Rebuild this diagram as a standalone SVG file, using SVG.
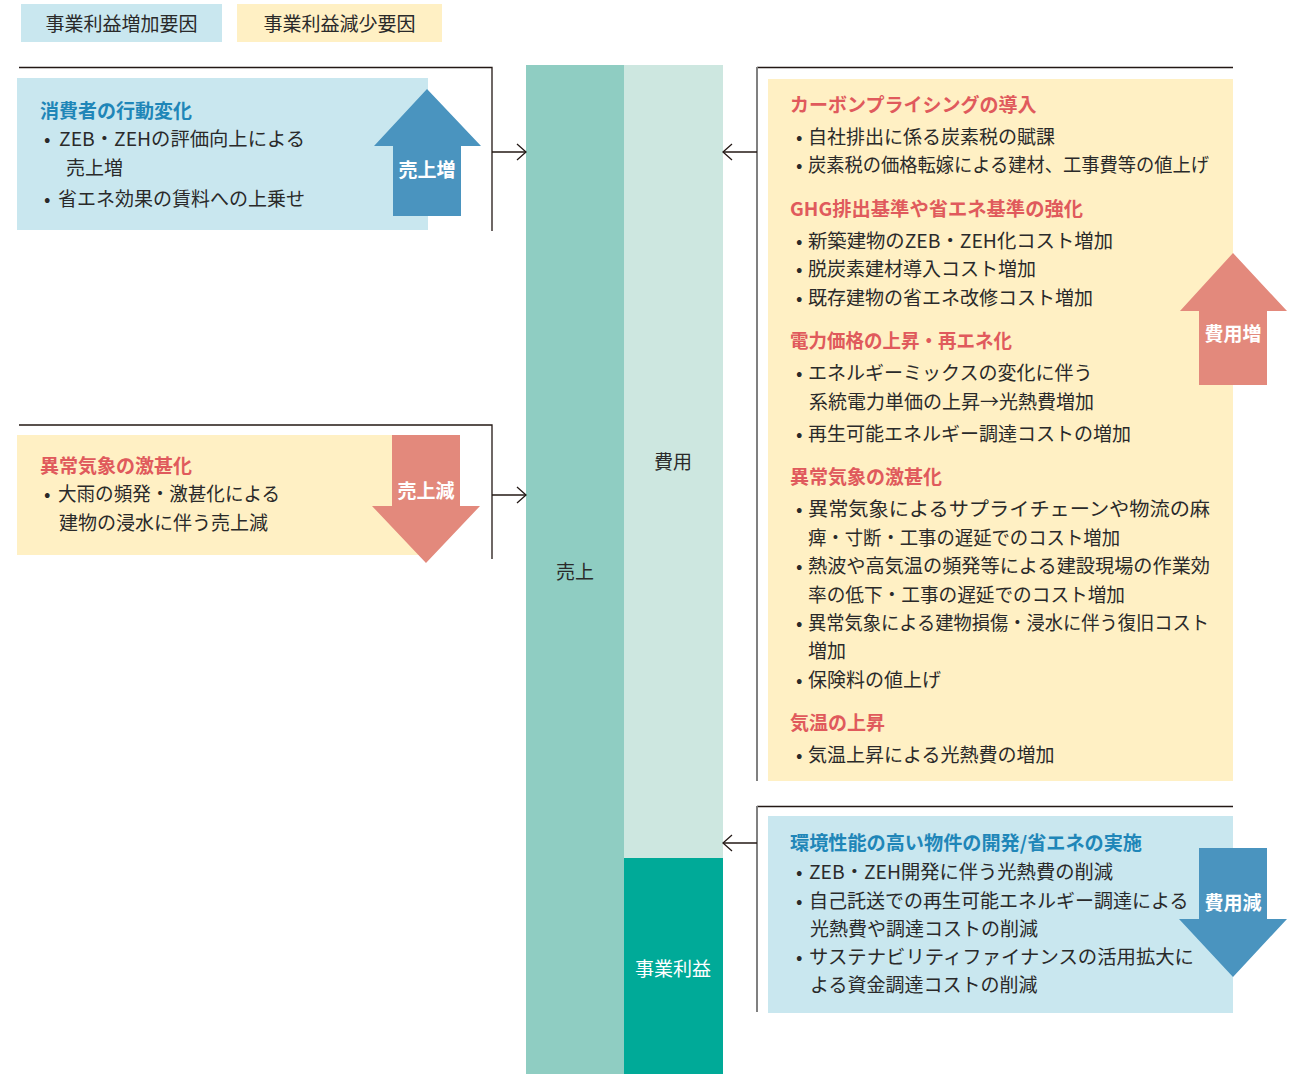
<svg xmlns="http://www.w3.org/2000/svg" width="1295" height="1074" viewBox="0 0 1295 1074">
<defs>
<style>
text{font-family:"Noto Sans CJK JP","Noto Sans CJK SC",sans-serif;dominant-baseline:central;}
.b{font-size:19px;fill:#2a2a2a;}
.tr{font-size:19px;font-weight:bold;fill:#e05a5c;}
.tb{font-size:19px;font-weight:bold;fill:#1f86b8;}
.aw{font-size:19px;font-weight:bold;fill:#ffffff;text-anchor:middle;}
.c{font-size:19px;fill:#2a2a2a;text-anchor:middle;}
.boxb{fill:#c9e7ef;}
.boxy{fill:#fff0c4;}
.arb{fill:#4a94bf;}
.arr{fill:#e3897c;}
.ln{stroke:#231815;stroke-width:1.3;fill:none;}
.lg{stroke:#808080;stroke-width:2;fill:none;}
</style>
<marker id="chev" markerUnits="userSpaceOnUse" markerWidth="12" markerHeight="18" refX="10" refY="9" orient="auto">
<path d="M1,1 L10,9 L1,17" fill="none" stroke="#231815" stroke-width="1.3"/>
</marker>
</defs>
<rect width="1295" height="1074" fill="#ffffff"/>

<g id="legend">
<rect class="boxb" x="21" y="4" width="201" height="38"/>
<text class="c" x="121.5" y="22">事業利益増加要因</text>
<rect class="boxy" x="237" y="4" width="205" height="38"/>
<text class="c" x="339.5" y="22">事業利益減少要因</text>
</g>

<g id="bars">
<rect x="526" y="65" width="98" height="1009" fill="#8fcdc2"/>
<rect x="624" y="65" width="99" height="793" fill="#cde7e0"/>
<rect x="624" y="858" width="99" height="216" fill="#00aa98"/>
<text class="c" x="575" y="570">売上</text>
<text class="c" x="673" y="460">費用</text>
<text class="c" x="673" y="967" style="fill:#ffffff">事業利益</text>
</g>

<g id="connectors">
<path class="ln" d="M19,67.5 H492 V231"/>
<path class="ln" d="M492,152 H526" marker-end="url(#chev)"/>
<path class="ln" d="M19,425 H492 V559"/>
<path class="ln" d="M492,495 H526" marker-end="url(#chev)"/>
<path class="ln" d="M757,67.5 H1233"/>
<path class="lg" d="M757,67 V781"/>
<path class="ln" d="M757,152 H723" marker-end="url(#chev)"/>
<path class="ln" d="M757,806.5 H1233"/>
<path class="lg" d="M757,806 V1012"/>
<path class="ln" d="M757,843 H723" marker-end="url(#chev)"/>
</g>

<g id="node-consumer">
<rect class="boxb" x="17" y="78" width="411" height="152"/>
<polygon class="arb" points="427,89 481,146 461,146 461,216 393,216 393,146 374,146"/>
<text class="aw" x="427" y="168">売上増</text>
<text class="tb" x="40" y="109">消費者の行動変化</text>
<text class="b" x="44" y="137">•</text>
<text class="b" x="59" y="137" textLength="246" lengthAdjust="spacingAndGlyphs">ZEB・ZEHの評価向上による</text>
<text class="b" x="66" y="166">売上増</text>
<text class="b" x="44" y="197">•</text>
<text class="b" x="58" y="197">省エネ効果の賃料への上乗せ</text>
</g>

<g id="node-weather-sales">
<rect class="boxy" x="17" y="435" width="411" height="120"/>
<polygon class="arr" points="392,435 460,435 460,506 480,506 426,563 372,506 392,506"/>
<text class="aw" x="426" y="489">売上減</text>
<text class="tr" x="40" y="464">異常気象の激甚化</text>
<text class="b" x="44" y="492">•</text>
<text class="b" x="58" y="492" textLength="222" lengthAdjust="spacingAndGlyphs">大雨の頻発・激甚化による</text>
<text class="b" x="59" y="521">建物の浸水に伴う売上減</text>
</g>

<g id="node-cost-increase">
<rect class="boxy" x="768" y="79" width="465" height="702"/>
<polygon class="arr" points="1233,253 1287,311 1267,311 1267,385 1199,385 1199,311 1180,311"/>
<text class="aw" x="1233" y="332">費用増</text>
<text class="tr" x="790" y="103">カーボンプライシングの導入</text>
<text class="b" x="796" y="135">•</text>
<text class="b" x="808" y="135">自社排出に係る炭素税の賦課</text>
<text class="b" x="796" y="163">•</text>
<text class="b" x="808" y="163" textLength="401" lengthAdjust="spacingAndGlyphs">炭素税の価格転嫁による建材、工事費等の値上げ</text>
<text class="tr" x="790" y="207" textLength="293" lengthAdjust="spacingAndGlyphs">GHG排出基準や省エネ基準の強化</text>
<text class="b" x="796" y="239">•</text>
<text class="b" x="808" y="239" textLength="305" lengthAdjust="spacingAndGlyphs">新築建物のZEB・ZEH化コスト増加</text>
<text class="b" x="796" y="267">•</text>
<text class="b" x="808" y="267">脱炭素建材導入コスト増加</text>
<text class="b" x="796" y="296">•</text>
<text class="b" x="808" y="296">既存建物の省エネ改修コスト増加</text>
<text class="tr" x="790" y="339" textLength="222" lengthAdjust="spacingAndGlyphs">電力価格の上昇・再エネ化</text>
<text class="b" x="796" y="371">•</text>
<text class="b" x="808" y="371">エネルギーミックスの変化に伴う</text>
<text class="b" x="809" y="400">系統電力単価の上昇→光熱費増加</text>
<text class="b" x="796" y="432">•</text>
<text class="b" x="808" y="432">再生可能エネルギー調達コストの増加</text>
<text class="tr" x="790" y="475">異常気象の激甚化</text>
<text class="b" x="796" y="507">•</text>
<text class="b" x="808" y="507" textLength="402" lengthAdjust="spacingAndGlyphs">異常気象によるサプライチェーンや物流の麻</text>
<text class="b" x="808" y="536" textLength="312" lengthAdjust="spacingAndGlyphs">痺・寸断・工事の遅延でのコスト増加</text>
<text class="b" x="796" y="564">•</text>
<text class="b" x="808" y="564" textLength="402" lengthAdjust="spacingAndGlyphs">熱波や高気温の頻発等による建設現場の作業効</text>
<text class="b" x="808" y="593" textLength="317" lengthAdjust="spacingAndGlyphs">率の低下・工事の遅延でのコスト増加</text>
<text class="b" x="796" y="621">•</text>
<text class="b" x="808" y="621" textLength="401" lengthAdjust="spacingAndGlyphs">異常気象による建物損傷・浸水に伴う復旧コスト</text>
<text class="b" x="808" y="649">増加</text>
<text class="b" x="796" y="678">•</text>
<text class="b" x="808" y="678">保険料の値上げ</text>
<text class="tr" x="790" y="721">気温の上昇</text>
<text class="b" x="796" y="753">•</text>
<text class="b" x="808" y="753">気温上昇による光熱費の増加</text>
</g>

<g id="node-cost-decrease">
<rect class="boxb" x="768" y="816" width="465" height="197"/>
<polygon class="arb" points="1199,848 1267,848 1267,919 1287,919 1233,977 1179,919 1199,919"/>
<text class="aw" x="1233" y="901">費用減</text>
<text class="tb" x="790" y="841" textLength="352" lengthAdjust="spacingAndGlyphs">環境性能の高い物件の開発/省エネの実施</text>
<text class="b" x="796" y="870">•</text>
<text class="b" x="809" y="870" textLength="304" lengthAdjust="spacingAndGlyphs">ZEB・ZEH開発に伴う光熱費の削減</text>
<text class="b" x="796" y="899">•</text>
<text class="b" x="809" y="899">自己託送での再生可能エネルギー調達による</text>
<text class="b" x="810" y="927">光熱費や調達コストの削減</text>
<text class="b" x="796" y="955">•</text>
<text class="b" x="809" y="955" textLength="385" lengthAdjust="spacingAndGlyphs">サステナビリティファイナンスの活用拡大に</text>
<text class="b" x="810" y="983">よる資金調達コストの削減</text>
</g>
</svg>
